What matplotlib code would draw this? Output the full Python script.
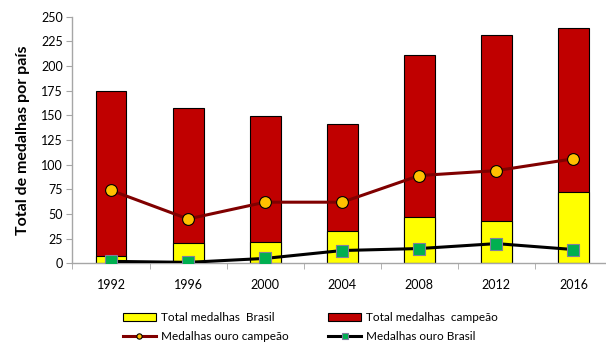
import matplotlib.pyplot as plt
import numpy as np

plt.rcParams['font.family'] = ['Lato', 'DejaVu Sans']

anos = ['1992', '1996', '2000', '2004', '2008', '2012', '2016']
total_brasil = [7, 21, 22, 33, 47, 43, 72]
total_campeao = [175, 157, 149, 141, 211, 231, 239]
ouro_campeao = [74, 45, 62, 62, 89, 94, 106]
ouro_brasil = [2, 1, 5, 13, 15, 20, 14]

GRAY = '#a6a6a6'

fig = plt.figure(figsize=(6.06, 3.42), dpi=100)
ax = fig.add_axes([0.1196, 0.230, 0.8903, 0.721])

x = np.arange(len(anos))
width = 0.4
b_camp = ax.bar(x, total_campeao, width, color='#C00000', edgecolor='black', linewidth=0.8,
                label='Total medalhas  campeão', zorder=1)
b_bra = ax.bar(x, total_brasil, width, color='#FFFF00', edgecolor='black', linewidth=0.8,
               label='Total medalhas  Brasil', zorder=2)
l_camp, = ax.plot(x, ouro_campeao, color='#800000', linewidth=2.2, marker='o', markersize=8.5,
                  markerfacecolor='#FFC000', markeredgecolor='black', markeredgewidth=0.8,
                  label='Medalhas ouro campeão', zorder=3)
l_bra, = ax.plot(x, ouro_brasil, color='black', linewidth=2.2, marker='s', markersize=9,
                 markerfacecolor='#00B050', markeredgecolor='#7f7f9f', markeredgewidth=0.8,
                 label='Medalhas ouro Brasil', zorder=4)

ax.set_xlim(-0.5, 6.5)
ax.set_ylim(0, 250)
ax.set_yticks(np.arange(0, 251, 25))
ax.set_xticks(x)
ax.set_xticklabels(anos)
ax.set_xticks(np.arange(-0.5, 6.6, 1), minor=True)
ax.tick_params(axis='x', which='major', length=0, pad=11, labelsize=9)
ax.tick_params(axis='x', which='minor', length=4, color=GRAY, direction='out')
ax.tick_params(axis='y', length=4, color=GRAY, labelsize=9, pad=3)

for s in ['top', 'right']:
    ax.spines[s].set_visible(False)
for s in ['left', 'bottom']:
    ax.spines[s].set_color(GRAY)
    ax.spines[s].set_linewidth(1.0)

ax.set_ylabel('Total de medalhas por país', fontsize=11.5, fontweight='bold', labelpad=8)

fig.legend(handles=[b_bra, l_camp, b_camp, l_bra], ncol=2, loc='lower left',
           bbox_to_anchor=(0.185, -0.03), frameon=False, fontsize=8.5, markerscale=0.45,
           handlelength=2.8, columnspacing=3.4, labelspacing=0.65, handletextpad=0.4)

fig.savefig('out.png', dpi=100)
